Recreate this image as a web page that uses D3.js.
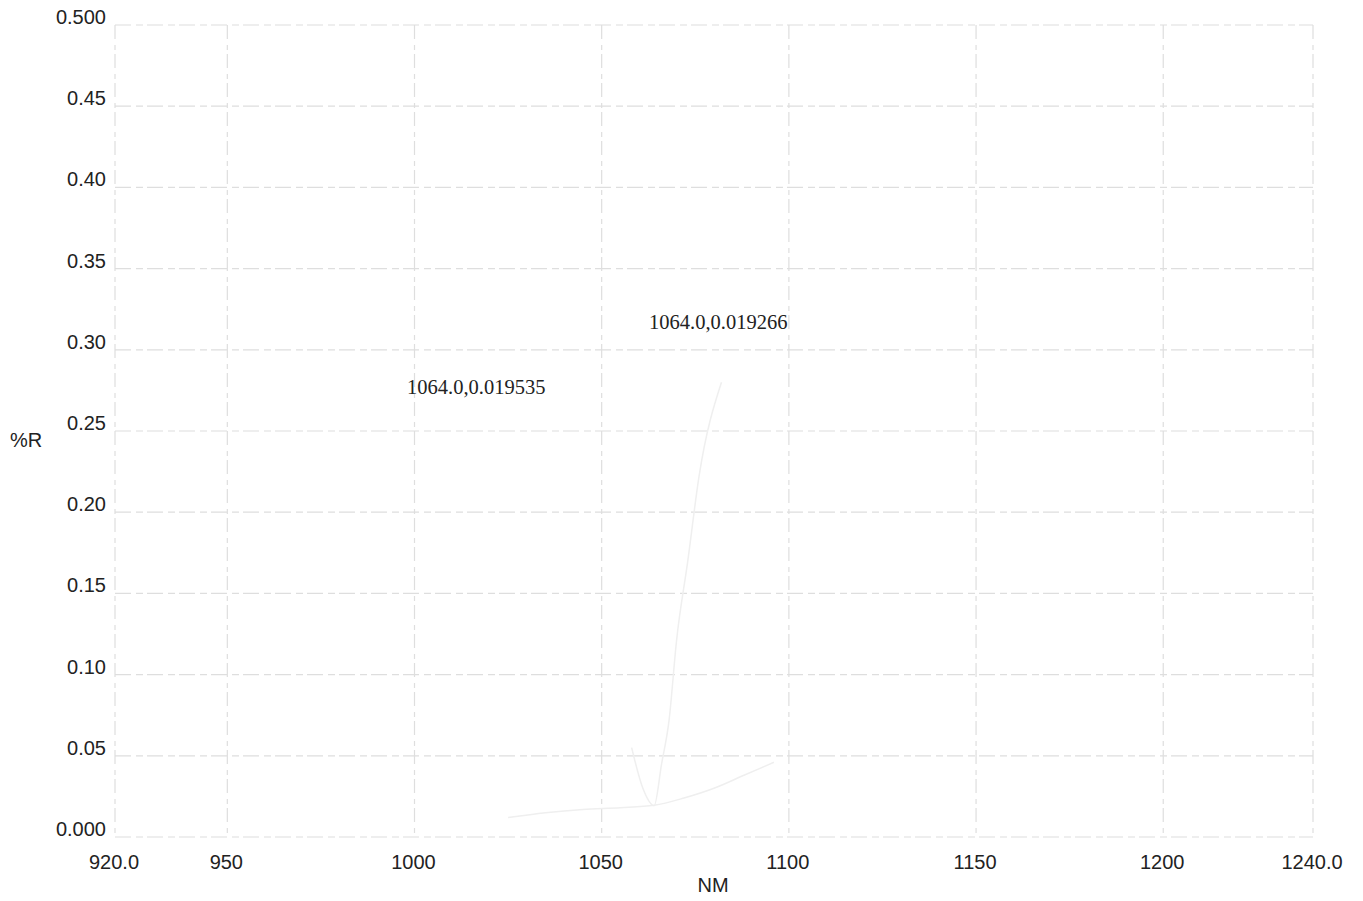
<!DOCTYPE html>
<html>
<head>
<meta charset="utf-8">
<script src="https://cdn.jsdelivr.net/npm/d3@7"></script>
<style>
  body { margin: 0; background: #fff; }
  svg { display: block; }
</style>
</head>
<body>
<div id="chart"></div>
<script>
// x / y axis labels (as printed)
var xTicks = [920, 950, 1000, 1050, 1100, 1150, 1200, 1240];
var xTickLabels = ["920.0", "950", "1000", "1050", "1100", "1150", "1200", "1240.0"];
var yTicks = [0, 0.05, 0.10, 0.15, 0.20, 0.25, 0.30, 0.35, 0.40, 0.45, 0.50];
var yTickLabels = ["0.000", "0.05", "0.10", "0.15", "0.20", "0.25", "0.30", "0.35", "0.40", "0.45", "0.500"];

// two reflectance curves (very faint on the scan), read approximately
var nmA = [1025, 1035, 1045, 1055, 1064, 1072, 1080, 1088, 1096];
var rA  = [0.012, 0.015, 0.017, 0.018, 0.0195, 0.024, 0.030, 0.038, 0.046];
var nmB = [1058, 1061, 1064, 1066, 1068, 1070, 1073, 1076, 1082];
var rB  = [0.055, 0.030, 0.0193, 0.045, 0.072, 0.121, 0.170, 0.222, 0.280];

// marker readouts
var labels = ["1064.0,0.019535", "1064.0,0.019266"];

var width = 1363;
var height = 901;

var svg = d3.select('#chart')
            .append('svg')
            .attr('width', width)
            .attr('height', height);

var x = d3.scaleLinear().domain([920, 1240]).range([115, 1313]);
var y = d3.scaleLinear().domain([0, 0.5]).range([837, 25]);

var gridColor = "#dedede";
var sans = "Liberation Sans, Arial, sans-serif";

// horizontal grid
svg.selectAll(".hgrid")
   .data(yTicks)
   .enter()
   .append("line")
   .attr("x1", x(920))
   .attr("x2", x(1240))
   .attr("y1", function(d){ return y(d); })
   .attr("y2", function(d){ return y(d); })
   .attr("stroke", gridColor)
   .attr("stroke-width", 1.2)
   .attr("stroke-dasharray", "16,5,7,4");

// vertical grid
svg.selectAll(".vgrid")
   .data(xTicks)
   .enter()
   .append("line")
   .attr("x1", function(d){ return x(d); })
   .attr("x2", function(d){ return x(d); })
   .attr("y1", y(0.5))
   .attr("y2", y(0))
   .attr("stroke", gridColor)
   .attr("stroke-width", 1.2)
   .attr("stroke-dasharray", "14,6,5,4");

// curves
var line = d3.line()
             .x(function(d){ return x(d[0]); })
             .y(function(d){ return y(d[1]); })
             .curve(d3.curveMonotoneX);

svg.append("path")
   .attr("d", line(d3.zip(nmA, rA)))
   .attr("fill", "none")
   .attr("stroke", "#efefef")
   .attr("stroke-width", 1.5);

svg.append("path")
   .attr("d", line(d3.zip(nmB, rB)))
   .attr("fill", "none")
   .attr("stroke", "#efefef")
   .attr("stroke-width", 1.5);

// tick labels
svg.selectAll(".xlab")
   .data(xTicks)
   .enter()
   .append("text")
   .attr("x", function(d){ return x(d) - 1; })
   .attr("y", 869)
   .attr("text-anchor", "middle")
   .attr("font-family", sans)
   .attr("font-size", 20)
   .attr("fill", "#222")
   .text(function(d, i){ return xTickLabels[i]; });

svg.selectAll(".ylab")
   .data(yTicks)
   .enter()
   .append("text")
   .attr("x", 106)
   .attr("y", function(d){ return y(d) - 1; })
   .attr("text-anchor", "end")
   .attr("font-family", sans)
   .attr("font-size", 20)
   .attr("fill", "#222")
   .text(function(d, i){ return yTickLabels[i]; });

// axis titles
svg.append("text")
   .attr("x", 713)
   .attr("y", 892)
   .attr("text-anchor", "middle")
   .attr("font-family", sans)
   .attr("font-size", 20)
   .attr("fill", "#222")
   .text("NM");

svg.append("text")
   .attr("x", 26)
   .attr("y", 447)
   .attr("text-anchor", "middle")
   .attr("font-family", sans)
   .attr("font-size", 20)
   .attr("fill", "#222")
   .text("%R");

// marker readouts
svg.append("text")
   .attr("x", 407)
   .attr("y", 394)
   .attr("font-family", "Liberation Serif, Times New Roman, serif")
   .attr("font-size", 20.5)
   .attr("fill", "#222")
   .text(labels[0]);

svg.append("text")
   .attr("x", 649)
   .attr("y", 329)
   .attr("font-family", "Liberation Serif, Times New Roman, serif")
   .attr("font-size", 20.5)
   .attr("fill", "#222")
   .text(labels[1]);
</script>
</body>
</html>
